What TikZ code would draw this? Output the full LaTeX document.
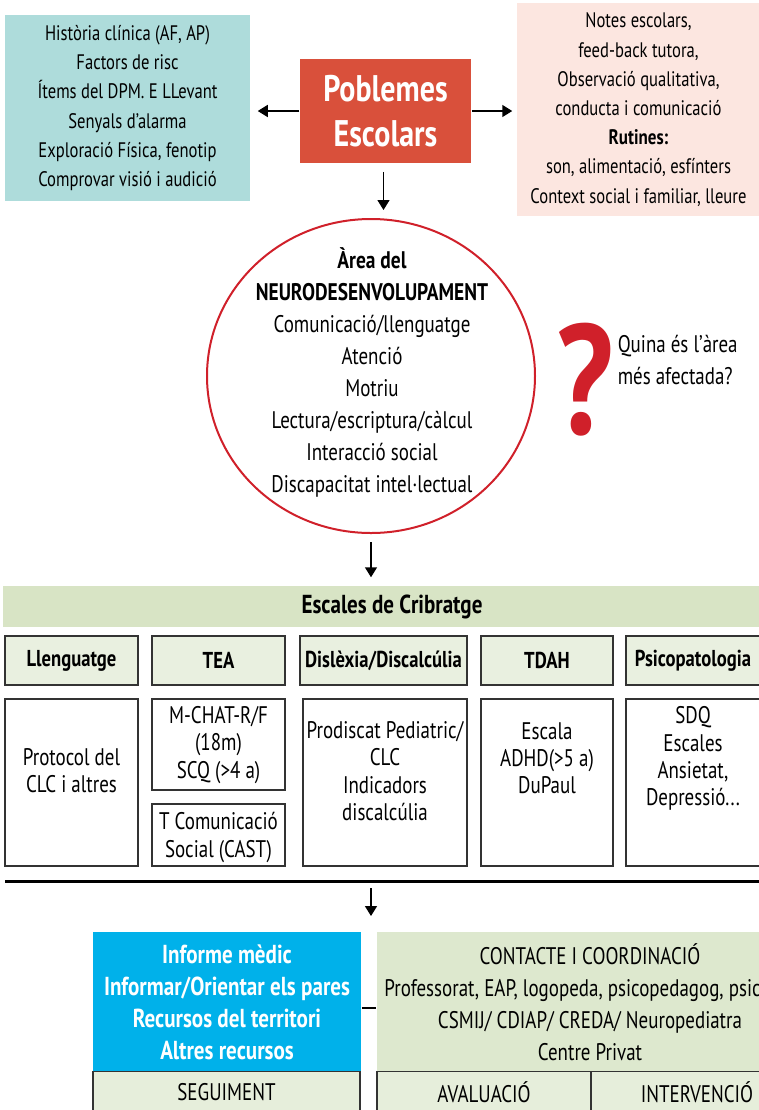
\documentclass[tikz,border=0pt]{standalone}
\usepackage{fontspec}
\setmainfont[FakeStretch=0.79,BoldFeatures={FakeStretch=0.81}]{PT Sans}
\usetikzlibrary{arrows.meta,positioning,shapes.geometric}

\definecolor{historybox}{HTML}{AEDCDB}
\definecolor{problembox}{HTML}{D9503B}
\definecolor{schoolbox}{HTML}{FCE6E0}
\definecolor{areared}{HTML}{D0202A}
\definecolor{scalebar}{HTML}{D8E4C5}
\definecolor{scalehead}{HTML}{E9F0E0}
\definecolor{reportbox}{HTML}{00B1EA}
\definecolor{contactbox}{HTML}{DDE8CE}
\definecolor{followbox}{HTML}{E6EEDB}

\tikzset{
	every node/.style={align=center,inner sep=0pt},
	boxtext/.style={font=\fontsize{10.5}{14.6}\selectfont},
	scalebox/.style={rectangle,draw=black!80,line width=0.7pt},
	scaletext/.style={font=\fontsize{12}{13.6}\selectfont},
	scaletitle/.style={scalebox,fill=scalehead,font=\bfseries\fontsize{11.5}{14}\selectfont},
	stagebox/.style={rectangle,draw=black!80,line width=0.6pt,fill=followbox,font=\fontsize{12}{14}\selectfont},
}

\begin{document}
\begin{tikzpicture}[x=0.5pt,y=-0.5pt,line width=0.75pt,>={Triangle[length=5pt,width=6pt]}]
	\useasboundingbox (0,0) rectangle (759,1110);

	% problem and the two information boxes
	\node (problem) [rectangle,fill=problembox,minimum width=85.5pt,minimum height=52pt,text=white,font=\bfseries\fontsize{18.5}{22.5}\selectfont] at (385.5,111) {Poblemes\\Escolars};

	\node (history) [rectangle,fill=historybox,minimum width=122.5pt,minimum height=93pt,boxtext] at (127.5,108) {%
		Història clínica (AF, AP)\\
		Factors de risc\\
		Ítems del DPM. E LLevant\\
		Senyals d’alarma\\
		Exploració Física, fenotip\\
		Comprovar visió i audició};

	\node (school) [rectangle,fill=schoolbox,minimum width=121.5pt,minimum height=106.5pt,boxtext] at (638.5,109.5) {%
		Notes escolars,\\
		feed-back tutora,\\
		Observació qualitativa,\\
		conducta i comunicació\\
		\textbf{Rutines:}\\
		son, alimentació, esfínters\\
		Context social i familiar, lleure};

	\draw[->,shorten >=3.5pt] (problem.west) -- (problem.west -| history.east);
	\draw[->,shorten >=2pt] (problem.east) -- (problem.east -| school.west);

	% area of the neurodevelopment
	\node (area) [ellipse,draw=areared,line width=1pt,minimum width=164pt,minimum height=157pt] at (371,376) {};
	\node (area text) [font=\fontsize{12}{16}\selectfont] at (372,372) {%
		\textbf{Àrea del}\\
		\textbf{NEURODESENVOLUPAMENT}\\
		Comunicació/llenguatge\\
		Atenció\\
		Motriu\\
		Lectura/escriptura/càlcul\\
		Interacció social\\
		Discapacitat intel·lectual};

	\node (question) [text=areared,font=\bfseries\fontsize{78}{78}\selectfont] at (585,380) {?};
	\node (question text) [anchor=west,align=left,font=\fontsize{12}{16}\selectfont] at (617,360) {Quina és l’àrea\\més afectada?};

	\draw[->,shorten <=4pt,shorten >=4pt] ([xshift=-1pt]problem.south) -- ([xshift=-1pt]problem.south |- area.north);

	% screening scales
	\node (scales) [rectangle,fill=scalebar,minimum width=389pt,minimum height=20.5pt,font=\bfseries\fontsize{13}{15}\selectfont] at (392,606.5) {Escales de Cribratge};
	\draw[->,shorten <=4pt,shorten >=4pt] (area.south) -- (area.south |- scales.north);

	\node (lang head)  [scaletitle,minimum width=66.5pt,minimum height=24.5pt] at (71.5,660.5) {Llenguatge};
	\node (tea head)   [scaletitle,minimum width=66.5pt,minimum height=24.5pt] at (218.5,660.5) {TEA};
	\node (dys head)   [scaletitle,minimum width=83.5pt,minimum height=24.5pt] at (383.5,660.5) {Dislèxia/Discalcúlia};
	\node (tdah head)  [scaletitle,minimum width=66pt,minimum height=24.5pt] at (547,660.5) {TDAH};
	\node (psy head)   [scaletitle,minimum width=67pt,minimum height=24.5pt] at (693,660.5) {Psicopatologia};

	\node (lang box)   [scalebox,minimum width=66.5pt,minimum height=83.5pt] at (71.5,782.5) {};
	\node (tea box)    [scalebox,minimum width=66.5pt,minimum height=45.5pt] at (218.5,744.5) {};
	\node (cast box)   [scalebox,minimum width=66.5pt,minimum height=31pt] at (218.5,835) {};
	\node (dys box)    [scalebox,minimum width=82pt,minimum height=83.5pt] at (385,782.5) {};
	\node (tdah box)   [scalebox,minimum width=66pt,minimum height=83.5pt] at (547,782.5) {};
	\node (psy box)    [scalebox,minimum width=67pt,minimum height=83.5pt] at (693,782.5) {};

	\node (lang text)  [scaletext] at (71.5,771) {Protocol del\\CLC i altres};
	\node (tea text)   [scaletext] at (218.5,745) {M-CHAT-R/F\\(18m)\\SCQ (>4 a)};
	\node (cast text)  [scaletext] at (218.5,837.5) {T Comunicació\\Social (CAST)};
	\node (dys text)   [scaletext] at (385,771) {Prodiscat Pediatric/\\CLC\\Indicadors\\discalcúlia};
	\node (tdah text)  [scaletext] at (547,758) {Escala\\ADHD(>5 a)\\DuPaul};
	\node (psy text)   [scaletext] at (693,758.5) {SDQ\\Escales\\Ansietat,\\Depressió...};

	% results
	\coordinate (rule left) at (5,881);
	\coordinate (rule right) at (780,881);
	\coordinate (rule mid) at (371,881);
	\coordinate (split) at (371,932);
	\draw[line width=1.5pt] (rule left) -- (rule right);
	\draw[->,shorten <=3.5pt,shorten >=8pt] (rule mid) -- (split);

	\node (report) [rectangle,fill=reportbox,minimum width=134pt,minimum height=70pt,text=white,font=\bfseries\fontsize{13}{16}\selectfont] at (227,1002) {%
		Informe mèdic\\
		Informar/Orientar els pares\\
		Recursos del territori\\
		Altres recursos};

	\node (contact) [rectangle,fill=contactbox,minimum width=213pt,minimum height=70pt,font=\fontsize{12}{16}\selectfont] at (590,1002) {%
		CONTACTE I COORDINACIÓ\\
		Professorat, EAP, logopeda, psicopedagog, psicòleg\\
		CSMIJ/ CDIAP/ CREDA/ Neuropediatra\\
		Centre Privat};

	\draw[line width=0.6pt] ([yshift=-3pt]report.east) -- ([yshift=-3pt]contact.west);

	\node (follow)    [stagebox,minimum width=133.5pt,minimum height=21pt] at (226.5,1092.5) {SEGUIMENT};
	\node (assess)    [stagebox,minimum width=107pt,minimum height=21pt] at (484,1092.5) {AVALUACIÓ};
	\node (intervene) [stagebox,minimum width=106pt,minimum height=21pt] at (697,1092.5) {INTERVENCIÓ};

\end{tikzpicture}
\end{document}
